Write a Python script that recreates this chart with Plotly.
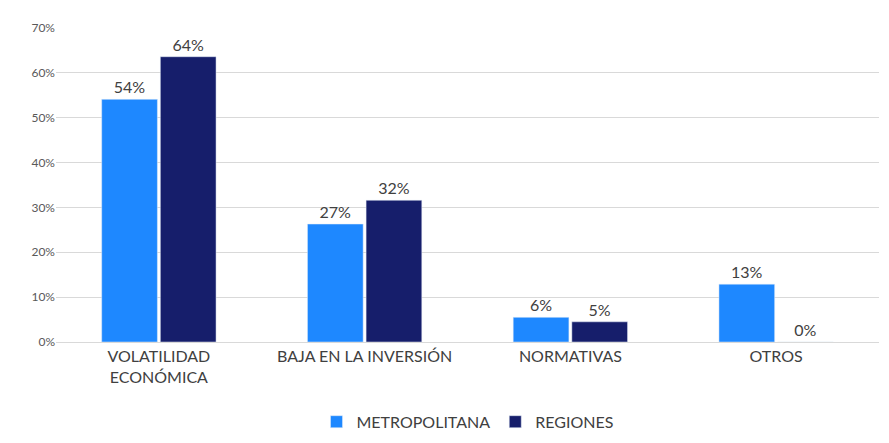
import plotly.graph_objects as go

categories = ["VOLATILIDAD<br>ECONÓMICA", "BAJA EN LA INVERSIÓN", "NORMATIVAS", "OTROS"]
metro = [0.541, 0.263, 0.055, 0.129]
regiones = [0.636, 0.316, 0.045, 0.0]
metro_text = ["54%", "27%", "6%", "13%"]
regiones_text = ["64%", "32%", "5%", "0%"]

fig = go.Figure()
fig.add_bar(x=categories, y=metro, name="METROPOLITANA", marker_color="#1E88FF",
            text=metro_text, textposition="outside", textfont=dict(size=16, color="#404040"), cliponaxis=False)
fig.add_bar(x=categories, y=regiones, name="REGIONES", marker_color="#161E6B",
            text=regiones_text, textposition="outside", textfont=dict(size=16, color="#404040"), cliponaxis=False)
fig.update_layout(
    width=889, height=443, paper_bgcolor="white", plot_bgcolor="white",
    font=dict(family="Lato", color="#404040"),
    margin=dict(l=48, r=18, t=18, b=95),
    barmode="group", bargap=0.43, bargroupgap=0.05,
    legend=dict(orientation="h", x=0.5, xanchor="center", y=-0.2, yanchor="top", font=dict(size=16)),
    yaxis=dict(range=[0, 0.7], dtick=0.1, tickformat=".0%", gridcolor="#D9D9D9",
               tickfont=dict(size=12, color="#595959"), zeroline=False),
    xaxis=dict(showline=True, linecolor="#D9D9D9", tickfont=dict(size=16, color="#404040")),
    uniformtext=dict(minsize=8),
)
fig.write_html("out.html")
